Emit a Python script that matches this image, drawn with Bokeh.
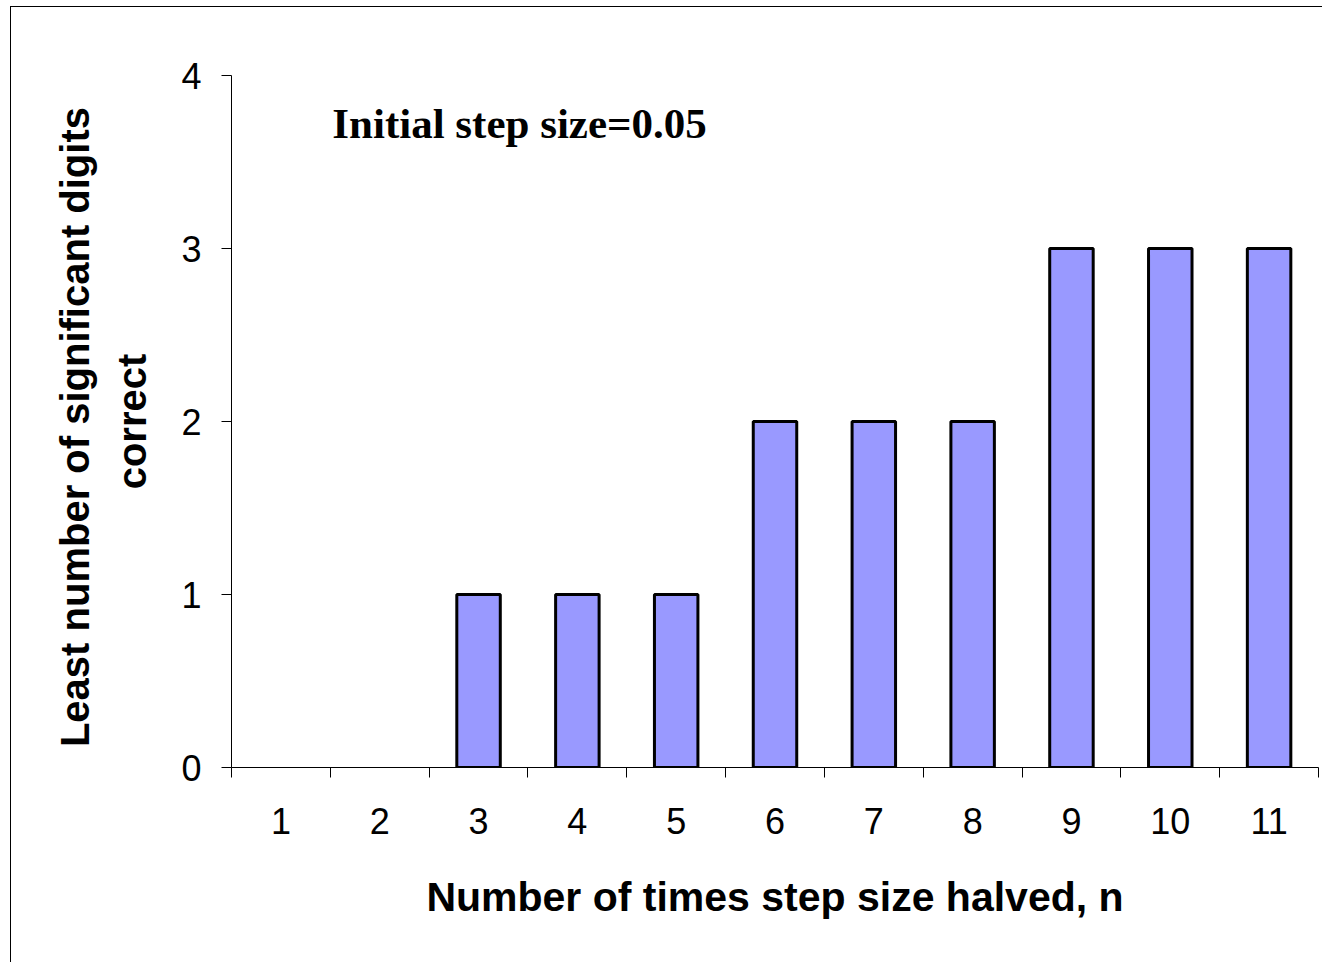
from bokeh.plotting import figure
from bokeh.models import FixedTicker, Range1d, Label, ColumnDataSource, CDSView, BooleanFilter
from bokeh.embed import file_html
from bokeh.resources import INLINE

n_values = [1, 2, 3, 4, 5, 6, 7, 8, 9, 10, 11]
digits_correct = [0, 0, 1, 1, 1, 2, 2, 2, 3, 3, 3]
y_ticks = [0, 1, 2, 3, 4]
title_text = "Initial step size=0.05"
x_title = "Number of times step size halved, n"
y_title = "Least  number of significant digits\ncorrect"

src = ColumnDataSource(dict(x=n_values, top=digits_correct))
view = CDSView(filter=BooleanFilter([v > 0 for v in digits_correct]))

p = figure(width=1322, height=962, output_backend="svg", toolbar_location=None,
           x_range=Range1d(0.5, 11.5), y_range=Range1d(0, 4),
           min_border_left=231, min_border_right=4, min_border_top=75, min_border_bottom=195)
p.outline_line_color = None
p.xgrid.visible = False
p.ygrid.visible = False
p.background_fill_color = "white"
p.border_fill_color = None
p.styles = {
    "background": "linear-gradient(black, black) 10px 6px / 1px 100% no-repeat, "
                  "linear-gradient(black, black) 10px 6px / 100% 1px no-repeat, white"
}

p.vbar(x="x", top="top", bottom=0, width=0.44, source=src, view=view,
       fill_color="#9999FF", line_color="black", line_width=3)

xa = p.xaxis[0]
xa.ticker = FixedTicker(ticks=n_values, minor_ticks=[v - 0.5 for v in n_values] + [n_values[-1] + 0.5])
xa.major_tick_out = 0
xa.major_tick_in = 0
xa.minor_tick_out = 10
xa.minor_tick_in = 0
xa.minor_tick_line_color = "black"
xa.axis_line_color = "black"
xa.major_label_text_font = "Liberation Sans"
xa.major_label_text_font_size = "36px"
xa.major_label_text_color = "black"
xa.major_label_standoff = 30
xa.axis_label = x_title
xa.axis_label_text_font = "Liberation Sans"
xa.axis_label_text_font_style = "bold"
xa.axis_label_text_font_size = "41px"
xa.axis_label_text_color = "black"
xa.axis_label_standoff = 37

ya = p.yaxis[0]
ya.ticker = FixedTicker(ticks=y_ticks, minor_ticks=[])
ya.major_tick_out = 10
ya.major_tick_in = 0
ya.major_tick_line_color = "black"
ya.axis_line_color = "black"
ya.major_label_text_font = "Liberation Sans"
ya.major_label_text_font_size = "36px"
ya.major_label_text_color = "black"
ya.major_label_standoff = 20
ya.axis_label = y_title
ya.axis_label_text_font = "Liberation Sans"
ya.axis_label_text_font_style = "bold"
ya.axis_label_text_font_size = "40px"
ya.axis_label_text_line_height = 1.3
ya.axis_label_text_color = "black"
ya.axis_label_standoff = 24

lbl = Label(x=1.52, y=3.72, text=title_text, text_font="Liberation Serif",
            text_font_style="bold", text_font_size="43px", text_color="black",
            text_baseline="alphabetic")
p.add_layout(lbl)

open("out.html", "w").write(file_html(p, INLINE))
